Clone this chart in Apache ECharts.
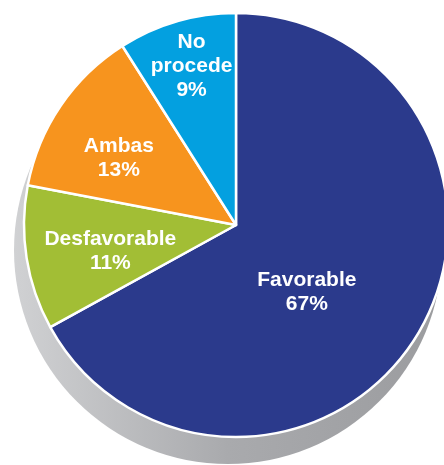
<!DOCTYPE html>
<html>
<head>
<meta charset="utf-8">
<script src="https://cdn.jsdelivr.net/npm/echarts@6/dist/echarts.min.js"></script>
<style>
  html, body { margin: 0; padding: 0; background: #ffffff; }
  #chart { width: 444px; height: 465px; }
</style>
</head>
<body>
<div id="chart"></div>
<script>
const categories = ['Favorable', 'Desfavorable', 'Ambas', 'No\nprocede'];
const values = [67, 11, 13, 9];
const percentLabels = ['67%', '11%', '13%', '9%'];

const sliceColors = ['#2b3a8c', '#a2be35', '#f7941e', '#03a0e0'];
const labelShift = [[-23, 12], [-18, 9], [-27, -6], [-14, -54]];

const chart = echarts.init(document.getElementById('chart'), null, { renderer: 'canvas' });

const pieData = categories.map((c, i) => ({
  name: c,
  value: values[i],
  itemStyle: { color: sliceColors[i] }
}));

chart.setOption({
  animation: false,
  backgroundColor: '#ffffff',
  series: [
    {
      type: 'pie',
      silent: true,
      center: [228, 250],
      radius: 214,
      startAngle: 90,
      label: { show: false },
      labelLine: { show: false },
      itemStyle: {
        color: new echarts.graphic.LinearGradient(0, 0, 1, 0, [
          { offset: 0, color: '#d0d1d3' },
          { offset: 0.5, color: '#a9aaad' },
          { offset: 1, color: '#9b9c9f' }
        ])
      },
      data: [{ name: 'shadow', value: 1 }]
    },
    {
      type: 'pie',
      silent: true,
      center: [236, 225],
      radius: 212,
      startAngle: 90,
      clockwise: true,
      itemStyle: { borderColor: '#ffffff', borderWidth: 2.5 },
      label: {
        show: true,
        position: 'inside',
        color: '#ffffff',
        fontFamily: 'Liberation Sans',
        fontWeight: 'bold',
        fontSize: 21,
        lineHeight: 24,
        align: 'center',
        formatter: p => p.name + '\n' + percentLabels[p.dataIndex]
      },
      labelLine: { show: false },
      labelLayout: p => ({ dx: labelShift[p.dataIndex][0], dy: labelShift[p.dataIndex][1] }),
      data: pieData
    }
  ]
});
</script>
</body>
</html>
